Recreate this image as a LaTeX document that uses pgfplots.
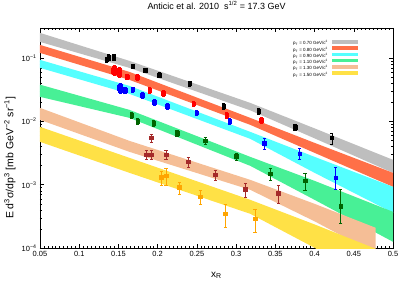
\documentclass[border=0pt]{standalone}
\usepackage{fontspec}
\setmainfont{Liberation Sans}
\usepackage{pgfplots}
\pgfplotsset{compat=1.18}
\definecolor{bgray}{RGB}{190,190,190}
\definecolor{bred}{RGB}{255,112,72}
\definecolor{bcyan}{RGB}{85,255,255}
\definecolor{bgreen}{RGB}{72,240,150}
\definecolor{bpeach}{RGB}{245,190,150}
\definecolor{byellow}{RGB}{255,225,70}
\definecolor{pgreen}{RGB}{0,100,0}
\definecolor{pbrown}{RGB}{165,42,42}
\definecolor{porange}{RGB}{255,165,0}
\pgfplotsset{
  pts/.style={only marks, mark=square*, mark size=1.8bp, color=#1,
    error bars/.cd, y dir=both, y explicit relative,
    error bar style={line width=0.6pt, color=#1},
    error mark options={rotate=90, mark size=1.6bp, line width=0.6pt, color=#1},
    /pgfplots/.cd},
}
\begin{document}
\begin{tikzpicture}
\useasboundingbox (-40bp,-40bp) rectangle (371bp,248bp);
\begin{axis}[
  scale only axis, width=353bp, height=220bp,
  xmin=0.05, xmax=0.5, ymin=1e-4, ymax=0.3, ymode=log,
  xtick={0.05,0.1,0.15,0.2,0.25,0.3,0.35,0.4,0.45,0.5},
  xticklabels={0.05,0.1,0.15,0.2,0.25,0.3,0.35,0.4,0.45,0.5},
  minor x tick num=9,
  ytick={1e-4,1e-3,1e-2,1e-1},
  yticklabels={10\textsuperscript{−4},10\textsuperscript{−3},10\textsuperscript{−2},10\textsuperscript{−1}},
  tick align=inside,
  major tick length=4bp, minor tick length=2bp,
  axis line style={line width=0.6pt},
  tick style={line width=0.5pt, black},
  tick label style={font=\fontsize{7.5}{8}\selectfont},
  title={Anticic et al. 2010\ \ s\textsuperscript{1/2} = 17.3 GeV},
  title style={at={(0.5,1)}, anchor=base, yshift=13bp, font=\fontsize{9}{10}\selectfont},
  xlabel={x\textsubscript{R}},
  xlabel style={at={(axis description cs:0.5,0)}, anchor=base, yshift=-29bp, font=\fontsize{10}{11}\selectfont},
  ylabel={E d\textsuperscript{3}σ/dp\textsuperscript{3} [mb GeV\textsuperscript{−2} sr\textsuperscript{−1}]},
  ylabel style={at={(axis description cs:-0.085,0.41)}, anchor=center, font=\fontsize{10.5}{11}\selectfont},
  legend plot pos=right,
  legend cell align=right,
  legend style={at={(0.915,0.955)}, anchor=north east, draw=none, fill=none,
    font=\fontsize{4.5}{5}\selectfont, row sep=0pt, column sep=2bp,
    nodes={inner sep=0.5pt, text height=4pt, text depth=1pt}},
  legend image code/.code={\draw[#1, line width=3.5bp] (0bp,1.5bp) -- (26bp,1.5bp);},
]
% bands
\addplot[fill=bgray, draw=none, forget plot] coordinates {(0.05,0.2510) (0.164,0.09065) (0.318,0.01967) (0.4,0.00778) (0.5,0.002474) (0.5,0.001542) (0.4,0.005408) (0.318,0.01498) (0.164,0.07028) (0.05,0.1809)} -- cycle;
\addplot[fill=bred, draw=none, forget plot] coordinates {(0.05,0.1622) (0.164,0.06075) (0.318,0.01140) (0.4,0.004590) (0.5,0.001542) (0.5,0.0009265) (0.4,0.003191) (0.318,0.008837) (0.164,0.04542) (0.05,0.1213)} -- cycle;
\addplot[fill=bcyan, draw=none, forget plot] coordinates {(0.05,0.0940) (0.164,0.03651) (0.318,0.006851) (0.4,0.002759) (0.5,0.0009265) (0.5,0.0003598) (0.4,0.001542) (0.318,0.005311) (0.164,0.02729) (0.05,0.07028)} -- cycle;
\addplot[fill=bgreen, draw=none, forget plot] coordinates {(0.05,0.03815) (0.164,0.01525) (0.318,0.002759) (0.4,0.001152) (0.5,0.0003732) (0.5,0.0001253) (0.4,0.0005774) (0.318,0.001989) (0.164,0.01140) (0.05,0.02447)} -- cycle;
\addplot[fill=bpeach, draw=none, forget plot] coordinates {(0.05,0.01640) (0.164,0.004938) (0.318,0.001195) (0.4,0.0004993) (0.478,0.0002085) (0.478,0.0000810) (0.4,0.0002641) (0.318,0.0008307) (0.164,0.003309) (0.05,0.01060)} -- cycle;
\addplot[fill=byellow, draw=none, forget plot] coordinates {(0.05,0.008217) (0.164,0.002661) (0.318,0.0005774) (0.4,0.0002359) (0.478,0.0000971) (0.478,0.00002924) (0.4,0.0001007) (0.318,0.0003469) (0.164,0.001542) (0.05,0.004761)} -- cycle;
% legend images
\addlegendimage{bgray}\addlegendentry{p\textsubscript{T} = 0.70 GeV/c\textsuperscript{2}}
\addlegendimage{bred}\addlegendentry{p\textsubscript{T} = 0.80 GeV/c\textsuperscript{2}}
\addlegendimage{bcyan}\addlegendentry{p\textsubscript{T} = 0.90 GeV/c\textsuperscript{2}}
\addlegendimage{bgreen}\addlegendentry{p\textsubscript{T} = 1.10 GeV/c\textsuperscript{2}}
\addlegendimage{bpeach}\addlegendentry{p\textsubscript{T} = 1.30 GeV/c\textsuperscript{2}}
\addlegendimage{byellow}\addlegendentry{p\textsubscript{T} = 1.50 GeV/c\textsuperscript{2}}
% data points
\addplot[forget plot, pts=black] coordinates {
(0.1350,0.095) +- (0,0.08) (0.1376,0.100) +- (0,0.08) (0.1376,0.106) +- (0,0.08)
(0.1442,0.101) +- (0,0.08) (0.1442,0.107) +- (0,0.08) (0.168,0.075) +- (0,0.08)
(0.184,0.065) +- (0,0.08) (0.202,0.054) +- (0,0.09) (0.241,0.040) +- (0,0.09)
(0.284,0.0174) +- (0,0.10) (0.329,0.0145) +- (0,0.10) (0.375,0.0081) +- (0,0.12)
(0.422,0.0055) +- (0,0.20)};
\addplot[forget plot, pts=red] coordinates {
(0.1425,0.064) +- (0,0.1) (0.1447,0.069) +- (0,0.1) (0.1447,0.060) +- (0,0.1)
(0.151,0.066) +- (0,0.1) (0.151,0.056) +- (0,0.1) (0.161,0.051) +- (0,0.1)
(0.174,0.050) +- (0,0.1) (0.190,0.031) +- (0,0.1) (0.207,0.028) +- (0,0.1)
(0.246,0.019) +- (0,0.1) (0.288,0.0126) +- (0,0.1) (0.332,0.0105) +- (0,0.12)};
\addplot[forget plot, pts=blue] coordinates {
(0.1503,0.034) +- (0,0.1) (0.1524,0.036) +- (0,0.1) (0.1524,0.031) +- (0,0.1)
(0.1584,0.031) +- (0,0.1) (0.168,0.032) +- (0,0.1) (0.1805,0.026) +- (0,0.1)
(0.1955,0.020) +- (0,0.1) (0.2124,0.0176) +- (0,0.1) (0.250,0.0137) +- (0,0.1)
(0.292,0.0102) +- (0,0.1) (0.336,0.0045) +- (0,0.2) (0.381,0.0031) +- (0,0.2)
(0.427,0.0013) += (0,0.45) -= (0,0.35)};
\addplot[forget plot, pts=pgreen] coordinates {
(0.1671,0.0126) +- (0,0.1) (0.1744,0.0101) +- (0,0.1) (0.1947,0.0094) +- (0,0.1)
(0.2247,0.0065) +- (0,0.1) (0.2606,0.0050) +- (0,0.12) (0.3004,0.0028) +- (0,0.12)
(0.3434,0.0015) +- (0,0.22) (0.3878,0.00115) +- (0,0.3)
(0.4333,0.00046) += (0,0.85) -= (0,0.47)};
\addplot[forget plot, pts=pbrown] coordinates {
(0.1853,0.0030) +- (0,0.15) (0.1919,0.0030) +- (0,0.15) (0.1919,0.0055) +- (0,0.15)
(0.2106,0.0030) +- (0,0.15) (0.2389,0.0023) +- (0,0.18) (0.2733,0.00145) +- (0,0.18)
(0.3119,0.00085) +- (0,0.25) (0.3539,0.00074) +- (0,0.3)};
\addplot[forget plot, pts=porange] coordinates {
(0.2045,0.00131) +- (0,0.25) (0.2105,0.00138) +- (0,0.3) (0.2277,0.00091) +- (0,0.22)
(0.2543,0.00065) +- (0,0.25) (0.2860,0.00035) +- (0,0.4) (0.3241,0.00029) +- (0,0.4)};
\end{axis}
\end{tikzpicture}
\end{document}
